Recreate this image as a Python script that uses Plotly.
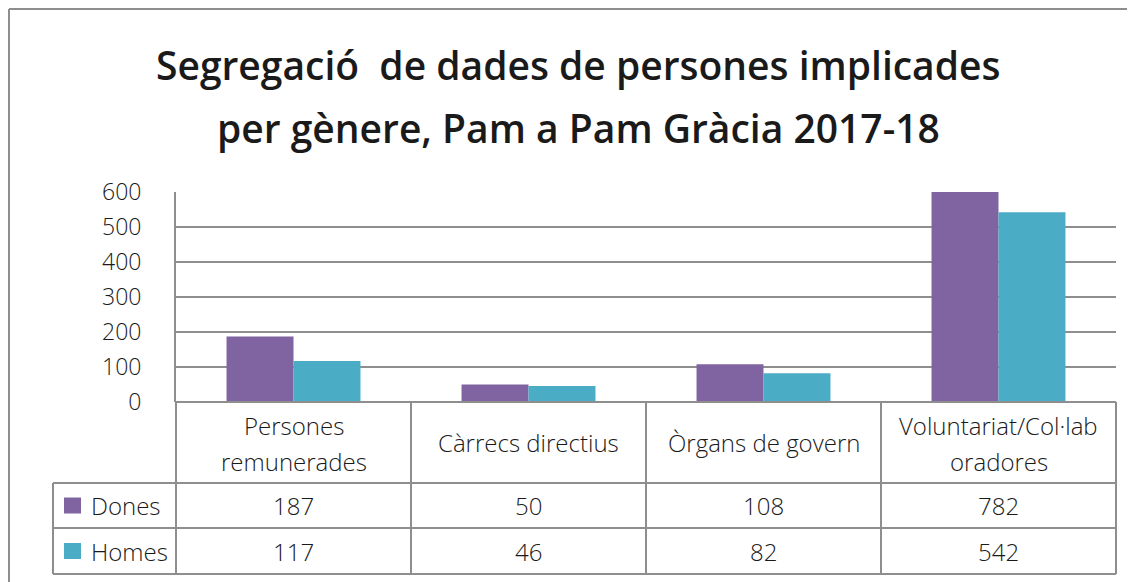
import plotly.graph_objects as go

W, H = 1135, 582

categories = ["Persones<br>remunerades", "Càrrecs directius", "Òrgans de govern", "Voluntariat/Col·lab<br>oradores"]
dones = [187, 50, 108, 782]
homes = [117, 46, 82, 542]
series_names = ["Dones", "Homes"]
colors = ["#8064A2", "#4BACC6"]
y_ticks = [0, 100, 200, 300, 400, 500, 600]
title_lines = ["Segregació  de dades de persones implicades", "per gènere, Pam a Pam Gràcia 2017-18"]

FONT = "Open Sans"
GRID = "#8e8e8e"
OFF = 8  # page margin of the html body


def fx(px):
    return (px - OFF) / W


def fy(py):
    return 1 - (py - OFF) / H


# plot area in pixels (screen coords)
X0, X1 = 176, 1116
Y_TOP, Y_AXIS = 192, 402
ROW1, ROW2, ROW3 = 483, 528, 574
LEG_X = 53

fig = go.Figure()
for name, vals, col in zip(series_names, [dones, homes], colors):
    fig.add_trace(go.Bar(x=categories, y=vals, name=name, marker=dict(color=col, line=dict(width=0)),
                         showlegend=False, hoverinfo="skip"))

shapes = []


def line(x0, y0, x1, y1, w=2):
    shapes.append(dict(type="line", xref="paper", yref="paper", x0=fx(x0), y0=fy(y0), x1=fx(x1), y1=fy(y1),
                       line=dict(color=GRID, width=w), layer="above"))


# outer frame
line(9, 9, W + 20, 9)
line(9, 9, 9, H + 20)

# table
step = (X1 - X0) / len(categories)
for i in range(len(categories) + 1):
    line(X0 + i * step, Y_AXIS, X0 + i * step, ROW3)
line(LEG_X, ROW1, LEG_X, ROW3)
for r in (ROW1, ROW2, ROW3):
    line(LEG_X, r, X1, r)
line(X0, Y_AXIS, X1, Y_AXIS)

annotations = []


def text(x, y, s, size=24, anchor="center", weight=300):
    annotations.append(dict(xref="paper", yref="paper", x=fx(x), y=fy(y), text=s, showarrow=False,
                            xanchor=anchor, yanchor="middle",
                            font=dict(family=FONT, size=size, color="#1a1a1a", weight=weight)))


for t, py in zip(title_lines, [65, 128]):
    text(578, py, t, size=39, weight=600)

for i, c in enumerate(categories):
    cx = X0 + (i + 0.5) * step
    if "<br>" in c:
        a, b = c.split("<br>")
        text(cx, 425, a)
        text(cx, 461, b)
    else:
        text(cx, 442, c)
    text(cx, (ROW1 + ROW2) / 2, str(dones[i]))
    text(cx, (ROW2 + ROW3) / 2, str(homes[i]))

for name, col, r0, r1 in zip(series_names, colors, [ROW1, ROW2], [ROW2, ROW3]):
    cy = (r0 + r1) / 2
    shapes.append(dict(type="rect", xref="paper", yref="paper", x0=fx(64), x1=fx(81), y0=fy(cy - 8), y1=fy(cy + 8),
                       fillcolor=col, line=dict(width=0)))
    text(89, cy, name, anchor="left")

fig.update_layout(
    width=W, height=H,
    margin=dict(l=0, r=0, t=0, b=0, autoexpand=False),
    paper_bgcolor="white", plot_bgcolor="white",
    barmode="group", bargap=0.43, bargroupgap=0,
    xaxis=dict(domain=[fx(X0), fx(X1)], showticklabels=False, showgrid=False, zeroline=False,
               showline=False, fixedrange=True, automargin=False),
    yaxis=dict(domain=[fy(Y_AXIS), fy(Y_TOP)], range=[0, 600], tickvals=y_ticks, showgrid=True,
               gridcolor=GRID, gridwidth=2, zeroline=False, showline=True, linecolor=GRID, linewidth=2,
               ticks="", ticklabelstandoff=28, automargin=False,
               tickfont=dict(family=FONT, size=23, color="#1a1a1a", weight=300), fixedrange=True),
    shapes=shapes,
    annotations=annotations,
)

fig.write_html("out.html")
